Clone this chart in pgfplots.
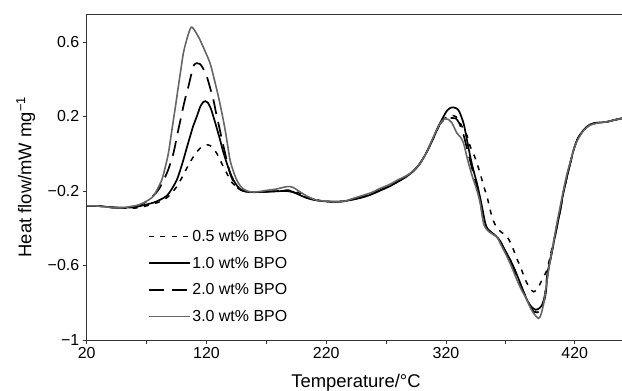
\documentclass[border=0pt]{standalone}
\usepackage{pgfplots}
\pgfplotsset{compat=1.18}
\usepackage{fontspec}
\setmainfont{Liberation Sans}

\pgfplotstableread{
T y
20 -0.280
30 -0.281
40 -0.288
50 -0.292
60 -0.292
67 -0.285
74 -0.272
81.3 -0.257
88.2 -0.230
95.2 -0.177
98.5 -0.140
102.1 -0.096
105.5 -0.055
109.1 -0.016
112 0.010
114.7 0.029
117.5 0.042
119.5 0.047
121.6 0.047
123.5 0.042
126 0.025
128.6 0.002
131.5 -0.035
134.1 -0.070
137 -0.105
139.7 -0.141
142.5 -0.163
145.3 -0.180
149 -0.195
154 -0.205
160 -0.207
170 -0.204
180 -0.200
187 -0.195
192 -0.200
197 -0.210
203 -0.230
210 -0.245
218 -0.255
226 -0.258
235 -0.255
243 -0.245
250 -0.232
258 -0.215
265 -0.194
272 -0.172
280 -0.146
287 -0.120
293 -0.090
298.5 -0.050
304 0.010
309.6 0.085
314 0.145
318 0.185
322 0.200
326 0.205
330 0.190
333 0.150
336 0.120
338 0.090
340.3 0.038
343 0.000
345.9 -0.051
348 -0.095
350.1 -0.141
352.3 -0.190
354.3 -0.230
356.3 -0.285
358.4 -0.338
361 -0.380
363.9 -0.409
367 -0.425
371 -0.445
374 -0.480
376.5 -0.517
379 -0.560
382.1 -0.606
385 -0.655
387.7 -0.696
390.5 -0.725
393.2 -0.741
396 -0.728
398.8 -0.696
401.5 -0.660
404.4 -0.624
407 -0.550
409.9 -0.470
413 -0.375
415.5 -0.300
418 -0.210
421.1 -0.123
424 -0.045
426.6 0.020
430 0.080
435 0.128
440 0.155
445 0.165
450 0.168
455 0.172
460 0.180
467 0.190
}\dataA

\pgfplotstableread{
T y
20 -0.280
30 -0.281
40 -0.287
50 -0.290
60 -0.287
67 -0.277
76 -0.262
82 -0.245
87 -0.225
91 -0.190
95.2 -0.141
98 -0.090
100.7 -0.034
103.5 0.030
106.3 0.092
109 0.150
111.9 0.199
115 0.255
117.5 0.278
119 0.282
121 0.275
123.5 0.245
125.8 0.199
128.5 0.140
131.4 0.074
134 0.010
137 -0.051
139.7 -0.100
142.5 -0.141
145.5 -0.172
148 -0.190
152 -0.202
158 -0.206
165 -0.205
175 -0.203
185 -0.200
190 -0.203
195 -0.213
200 -0.228
207 -0.243
215 -0.253
226 -0.258
235 -0.255
243 -0.245
250 -0.235
258 -0.218
265 -0.198
272 -0.178
280 -0.150
287 -0.123
293 -0.092
298.5 -0.051
304 0.010
309.6 0.085
314 0.150
318 0.200
321 0.232
324 0.247
326 0.249
328.5 0.244
331 0.228
334.7 0.163
337.5 0.075
340.3 -0.016
343 -0.090
345.9 -0.159
348 -0.220
350.1 -0.284
352.8 -0.373
355 -0.405
358.4 -0.425
362 -0.443
365.4 -0.470
369 -0.515
373.7 -0.570
378 -0.630
382.1 -0.696
385 -0.745
387.7 -0.785
390.5 -0.815
393.2 -0.832
395 -0.838
397.5 -0.832
400 -0.815
402 -0.790
403.5 -0.740
405 -0.640
407.5 -0.560
409.9 -0.481
413 -0.380
415.5 -0.302
418 -0.210
421.1 -0.123
424 -0.045
426.6 0.020
430 0.080
435 0.128
440 0.155
445 0.165
450 0.168
455 0.172
460 0.180
467 0.190
}\dataB

\pgfplotstableread{
T y
20 -0.280
30 -0.281
40 -0.288
50 -0.290
60 -0.285
67 -0.268
74 -0.235
79.8 -0.195
83.5 -0.150
86.9 -0.105
89.7 -0.055
92.4 0.002
94.5 0.065
96.5 0.128
98.6 0.190
100.7 0.253
102.8 0.310
104.9 0.360
107.5 0.430
109.5 0.475
111.9 0.486
114.5 0.482
117 0.460
120.3 0.414
123 0.355
125.8 0.289
128 0.220
130 0.163
132.8 0.080
135.6 0.002
137.7 -0.055
139.7 -0.105
142.5 -0.150
146 -0.183
150 -0.198
156 -0.206
165 -0.205
175 -0.202
185 -0.198
190 -0.200
195 -0.212
200 -0.228
207 -0.243
215 -0.253
226 -0.258
235 -0.255
243 -0.243
250 -0.232
258 -0.215
265 -0.196
272 -0.175
280 -0.148
287 -0.120
293 -0.092
298.5 -0.050
304 0.010
309.6 0.088
314 0.150
318 0.180
321 0.190
325 0.192
328 0.190
331 0.165
334.7 0.100
337.5 0.030
340.3 -0.040
343 -0.110
346 -0.180
348.6 -0.250
351 -0.350
353.5 -0.395
357 -0.418
361 -0.438
364 -0.460
368 -0.505
372 -0.555
376 -0.610
380 -0.670
384 -0.730
387.5 -0.780
390.5 -0.820
393.2 -0.848
396 -0.852
398.5 -0.845
400.5 -0.810
402.5 -0.760
404.4 -0.660
407 -0.570
409.9 -0.481
413 -0.380
415.5 -0.302
418 -0.210
421.1 -0.123
424 -0.045
426.6 0.020
430 0.080
435 0.128
440 0.155
445 0.165
450 0.168
455 0.172
460 0.180
467 0.190
}\dataC

\pgfplotstableread{
T y
20 -0.280
30 -0.281
40 -0.288
50 -0.290
56 -0.284
60 -0.280
64.5 -0.272
70 -0.255
75.7 -0.228
79 -0.190
82.7 -0.141
85.5 -0.075
88.2 0.002
90.3 0.090
92.4 0.181
94.5 0.270
96.5 0.360
98.6 0.450
100.7 0.539
103 0.600
105 0.645
107.2 0.679
109 0.672
111.5 0.648
114.7 0.610
118.5 0.555
123 0.486
126.5 0.400
130 0.306
133 0.215
135.6 0.128
137.7 0.045
139.7 -0.034
142.5 -0.095
145.3 -0.141
148.5 -0.175
152.3 -0.195
157 -0.205
163.4 -0.204
170 -0.197
178 -0.190
187 -0.177
192 -0.180
198.2 -0.205
204 -0.228
210 -0.245
215 -0.252
226 -0.258
235 -0.255
243 -0.239
250 -0.225
258 -0.208
265 -0.186
272 -0.168
280 -0.140
287 -0.118
293 -0.090
298.5 -0.051
304 0.010
309.6 0.092
314 0.150
317 0.178
319.4 0.188
322 0.184
325 0.165
329.2 0.110
332 0.090
334.7 0.056
338 -0.030
341 -0.100
343 -0.141
346 -0.200
348.6 -0.266
351.4 -0.373
354.3 -0.409
358 -0.428
362.6 -0.448
366 -0.490
371 -0.553
375 -0.610
379.3 -0.678
383 -0.730
386.2 -0.767
390 -0.820
393.2 -0.857
397.4 -0.884
399.5 -0.860
401.6 -0.803
403.5 -0.720
405.7 -0.624
408 -0.540
410.5 -0.450
413 -0.360
415.5 -0.280
418 -0.200
421 -0.110
424 -0.040
427 0.030
430 0.075
435 0.125
440 0.152
445 0.162
450 0.168
455 0.172
460 0.180
467 0.190
}\dataD

\begin{document}
\begin{tikzpicture}
\useasboundingbox (-86.7bp,-51bp) rectangle (535.3bp,340bp);
\begin{axis}[
  scale only axis,
  width=535.3bp, height=326bp,
  xmin=20, xmax=467, ymin=-1, ymax=0.75,
  axis x line*=box, axis y line*=left,
  axis line style={black!80, line width=0.8bp},
  xtick={20,120,220,320,427.5},
  xticklabels={20,120,220,320,420},
  minor xtick={70,170,270,370},
  ytick={-1,-0.6,-0.2,0.2,0.6},
  yticklabels={−1,−0.6,−0.2,0.2,0.6},
  xtick pos=bottom, ytick pos=left,
  tick align=outside,
  major tick length=4bp, minor tick length=4bp,
  tick style={black!80, line width=0.8bp},
  tick label style={font=\fontsize{16}{19}\selectfont},
  /pgf/number format/assume math mode=true,
  xlabel={Temperature/°C},
  ylabel={Heat flow/mW mg\textsuperscript{−1}},
  every axis x label/.style={at={(axis description cs:0.503,-0.131)}, anchor=center, font=\fontsize{18.5}{22}\selectfont},
  every axis y label/.style={at={(axis description cs:-0.114,0.5)}, anchor=center, rotate=90, font=\fontsize{18.5}{22}\selectfont},
  legend style={draw=none, fill=none, font=\fontsize{16}{19}\selectfont,
    at={(rel axis cs:0.108,0.349)}, anchor=north west, row sep=10bp,
    cells={anchor=west}},
  legend image code/.code={\draw[#1] (0bp,0bp) -- (41bp,0bp);},
  clip=false,
]
\addplot[black, line width=1.5bp, dash pattern=on 5bp off 6.5bp, smooth] table[x=T,y=y] {\dataA};
\addlegendentry{0.5 wt\% BPO}
\addplot[black, line width=1.7bp, smooth] table[x=T,y=y] {\dataB};
\addlegendentry{1.0 wt\% BPO}
\addplot[black, line width=1.7bp, dash pattern=on 15bp off 8bp, smooth] table[x=T,y=y] {\dataC};
\addlegendentry{2.0 wt\% BPO}
\addplot[black!60, line width=1.6bp, smooth] table[x=T,y=y] {\dataD};
\addlegendentry{3.0 wt\% BPO}
\end{axis}
\end{tikzpicture}
\end{document}
